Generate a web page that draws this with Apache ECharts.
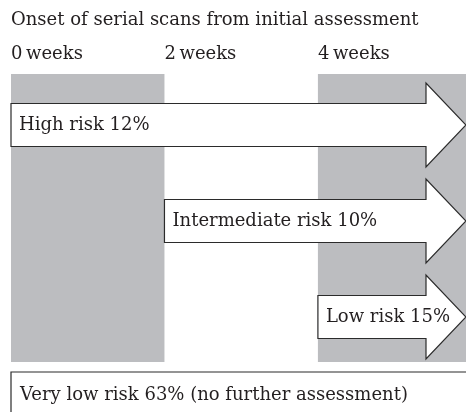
<!DOCTYPE html>
<html>
<head>
<meta charset="utf-8">
<script src="https://cdn.jsdelivr.net/npm/echarts@6/dist/echarts.min.js"></script>
<style>
  html, body { margin: 0; padding: 0; background: #ffffff; }
  #chart { width: 466px; height: 412px; }
</style>
</head>
<body>
<div id="chart"></div>
<script>
// ---- data ----
const chartTitle = 'Onset of serial scans from initial assessment';
const weekTicks = [0, 2, 4];
const weekUnit = 'weeks';
const axisMaxWeeks = 5.93;
const shadedWeekRanges = [[0, 2], [4, axisMaxWeeks]];
const riskGroups = ['High risk', 'Intermediate risk', 'Low risk'];
const riskPercents = [12, 10, 15];
const scanOnsetWeeks = [0, 2, 4];
const veryLowGroup = 'Very low risk';
const veryLowPercent = 63;
const veryLowNote = '(no further assessment)';

// ---- style ----
const FONT = "'DejaVu Serif', serif";
const FS = 18;
const TEXT_COLOR = '#231f20';
const BAND_COLOR = '#bcbdc0';
const STROKE = '#2b2b2b';

const chart = echarts.init(document.getElementById('chart'), null, { renderer: 'canvas' });

const rowLabels = riskGroups.map((g, i) => g + ' ' + riskPercents[i] + '%');
const arrowData = scanOnsetWeeks.map((w, i) => [w, i, rowLabels[i]]);
const veryLowLabel = veryLowGroup + ' ' + veryLowPercent + '% ' + veryLowNote;

function bandItem(params, api) {
  const cs = params.coordSys;
  const x0 = api.coord([api.value(0), 0])[0];
  const x1 = api.coord([api.value(1), 0])[0];
  return {
    type: 'rect',
    shape: { x: x0, y: cs.y - 3, width: x1 - x0, height: cs.height },
    style: { fill: BAND_COLOR }
  };
}

function arrowItem(params, api) {
  const start = api.coord([api.value(0), api.value(1)]);
  const tipX = api.coord([axisMaxWeeks, api.value(1)])[0];
  const cy = start[1];
  const sx = start[0];
  const bh = 43, hh = 84, hl = 40;
  const hx = tipX - hl;
  const pts = [
    [sx, cy - bh / 2], [hx, cy - bh / 2], [hx, cy - hh / 2], [tipX, cy],
    [hx, cy + hh / 2], [hx, cy + bh / 2], [sx, cy + bh / 2]
  ];
  return {
    type: 'group',
    children: [
      { type: 'polygon', shape: { points: pts },
        style: { fill: '#ffffff', stroke: STROKE, lineWidth: 1.2 } },
      { type: 'text', x: sx + 8, y: cy,
        style: { text: arrowData[params.dataIndex][2], fill: TEXT_COLOR,
          font: FS + 'px ' + FONT, textAlign: 'left', textVerticalAlign: 'middle' } }
    ]
  };
}

function veryLowItem(params, api) {
  const cs = params.coordSys;
  const sx = api.coord([api.value(0), 0])[0];
  return {
    type: 'group',
    children: [
      { type: 'rect', shape: { x: sx, y: cs.y, width: cs.x + cs.width - sx + 4, height: 44 },
        style: { fill: '#ffffff', stroke: STROKE, lineWidth: 1.2 } },
      { type: 'text', x: sx + 9, y: cs.y + 23,
        style: { text: veryLowLabel, fill: TEXT_COLOR,
          font: FS + 'px ' + FONT, textAlign: 'left', textVerticalAlign: 'middle' } }
    ]
  };
}

const option = {
  animation: false,
  title: {
    text: chartTitle,
    left: 11, top: 6, padding: [5, 0, 5, 0],
    textStyle: { fontFamily: FONT, fontSize: FS, fontWeight: 'normal', color: TEXT_COLOR }
  },
  grid: [
    { left: 11, right: 0, top: 77, height: 288 },
    { left: 11, right: 0, top: 372, height: 40 }
  ],
  xAxis: [
    {
      gridIndex: 0, type: 'value', position: 'top', min: 0, max: axisMaxWeeks, interval: 2,
      axisLine: { show: false }, axisTick: { show: false }, splitLine: { show: false },
      axisLabel: {
        show: true, align: 'left', margin: 14, showMaxLabel: false,
        fontFamily: FONT, fontSize: FS, color: TEXT_COLOR,
        formatter: v => (weekTicks.indexOf(v) >= 0 ? v + '\u2009' + weekUnit : '')
      }
    },
    {
      gridIndex: 1, type: 'value', min: 0, max: axisMaxWeeks, show: false
    }
  ],
  yAxis: [
    { gridIndex: 0, type: 'category', data: rowLabels, inverse: true, show: false },
    { gridIndex: 1, type: 'category', data: [veryLowLabel], show: false }
  ],
  series: [
    {
      type: 'custom', xAxisIndex: 0, yAxisIndex: 0, silent: true,
      renderItem: bandItem, data: shadedWeekRanges, z: 1
    },
    {
      type: 'custom', xAxisIndex: 0, yAxisIndex: 0, silent: true,
      renderItem: arrowItem, data: arrowData, z: 2,
      encode: { x: 0, y: 1 }
    },
    {
      type: 'custom', xAxisIndex: 1, yAxisIndex: 1, silent: true,
      renderItem: veryLowItem, data: [[0, 0]], z: 2
    }
  ]
};

chart.setOption(option);
</script>
</body>
</html>
